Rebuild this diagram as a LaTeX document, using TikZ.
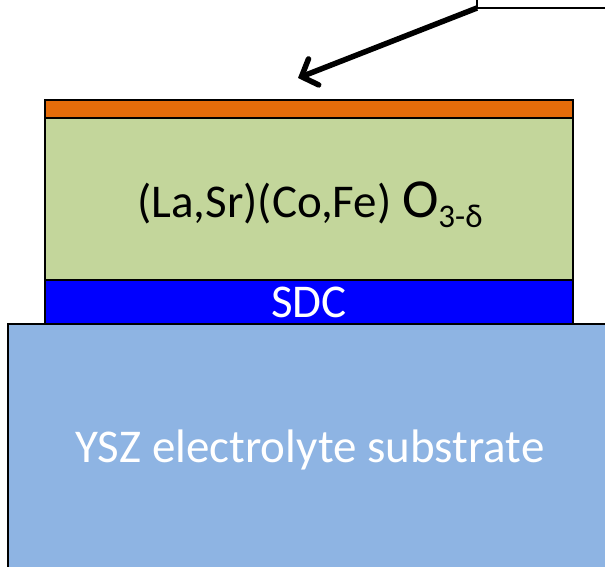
\documentclass[tikz,border=0pt]{standalone}
\usepackage{fontspec}
\setmainfont{Carlito}
\usetikzlibrary{arrows.meta}
\definecolor{caporange}{HTML}{E46C0A}
\definecolor{lscfgreen}{HTML}{C3D69B}
\definecolor{sdcblue}{HTML}{0000FF}
\definecolor{yszblue}{HTML}{8EB4E3}
\tikzset{
  layer/.style={draw=black, line width=2.5pt, anchor=north west, inner sep=0pt, outer sep=0pt},
  lbl/.style={font=\fontsize{47}{56}\selectfont, inner sep=0pt},
}
\begin{document}
\begin{tikzpicture}[x=1pt,y=-1pt]
\useasboundingbox (0,0) rectangle (605,566);
\clip (0,0) rectangle (605,566);
% substrate
\node[layer, fill=yszblue, minimum width=620pt, minimum height=260pt] (ysz) at (8,324) {};
% SDC
\node[layer, fill=sdcblue, minimum width=528pt, minimum height=44pt] (sdc) at (45,280) {};
% LSCF
\node[layer, fill=lscfgreen, minimum width=528pt, minimum height=162pt] (lscf) at (45,118) {};
% cap layer
\node[layer, fill=caporange, minimum width=528pt, minimum height=18pt] (cap) at (45,100) {};
% labels
\node[lbl, anchor=base] (lscftxt) at (310,217) {(La,Sr)(Co,Fe) {\fontsize{55}{60}\selectfont O}\raisebox{-10pt}{\fontsize{33}{36}\selectfont 3-δ}};
\node[lbl, text=white] (sdctxt) at (309,302) {SDC};
\node[lbl, text=white] (ysztxt) at (310,450) {YSZ electrolyte substrate};
% callout box (partly visible)
\node[layer, fill=white, minimum width=200pt, minimum height=40pt, anchor=south west] (callout) at (477,8) {};
\coordinate (tip) at (298,78);
\draw[line width=5.5pt, -{Straight Barb[length=13pt,width=28pt,line cap=round]}] (callout.south west) -- (tip);
\end{tikzpicture}
\end{document}
